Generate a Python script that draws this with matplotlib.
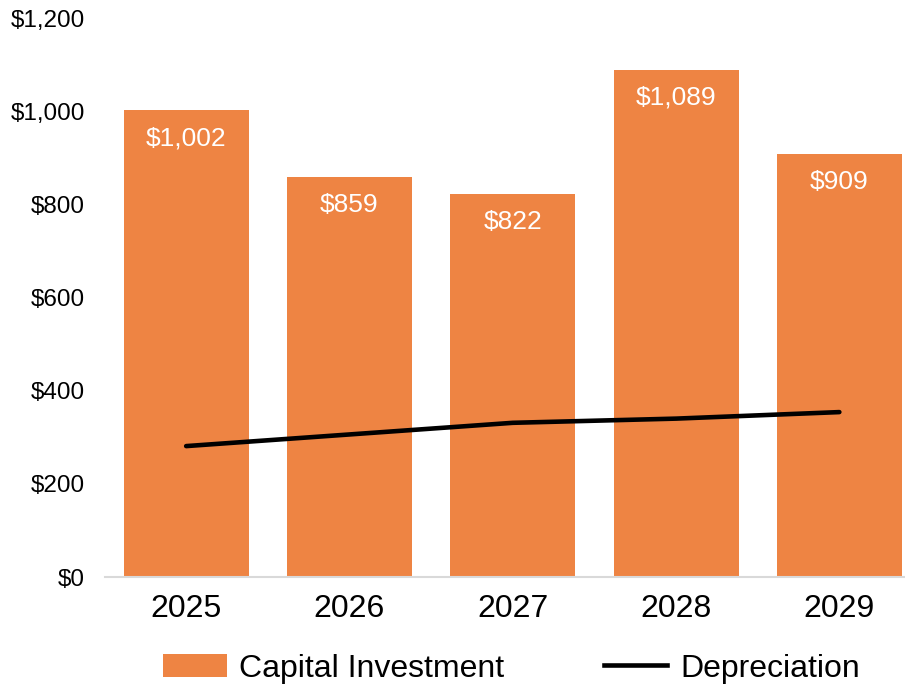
import matplotlib.pyplot as plt
from matplotlib.patches import Patch
from matplotlib.lines import Line2D

years = ["2025", "2026", "2027", "2028", "2029"]
capital = [1002, 859, 822, 1089, 909]
depreciation = [281, 306, 331, 340, 354]

orange = "#EE8443"
plt.rcParams['font.family'] = ['Liberation Sans', 'DejaVu Sans']

fig = plt.figure(figsize=(9.05, 6.85), dpi=100)
ax = fig.add_axes([104.5/905, 108/685, (921-104.5)/905, 559/685])

x = range(len(years))
bars = ax.bar(x, capital, width=0.765, color=orange, zorder=2)
ax.plot(x, depreciation, color="black", linewidth=3.3, solid_capstyle="round", zorder=3)

for xi, v in zip(x, capital):
    ax.annotate("${:,}".format(v), (xi, v), xytext=(0, -28), textcoords="offset pixels",
                ha="center", va="center", color="white", fontsize=19)

ax.set_xlim(-0.5, 4.5)
ax.set_ylim(0, 1200)
ax.set_yticks(range(0, 1201, 200))
ax.set_yticklabels(["${:,}".format(t) for t in range(0, 1201, 200)], fontsize=17.5)
ax.set_xticks(list(x))
ax.set_xticklabels(years, fontsize=23)
ax.tick_params(axis="y", length=0, pad=14)
ax.tick_params(axis="x", length=0, pad=12)

for s in ["top", "right", "left"]:
    ax.spines[s].set_visible(False)
ax.spines["bottom"].set_color("#D9D9D9")
ax.spines["bottom"].set_linewidth(1.5)

handles = [Patch(facecolor=orange, label="Capital Investment"),
           Line2D([0], [0], color="black", linewidth=3.3, label="Depreciation")]
fig.legend(handles=handles, loc="center", bbox_to_anchor=(0.565, 0.024), ncol=2,
           frameon=False, fontsize=23, handlelength=2.0, handletextpad=0.4,
           columnspacing=3.1, borderpad=0, borderaxespad=0)

fig.savefig("out.png", dpi=100)
